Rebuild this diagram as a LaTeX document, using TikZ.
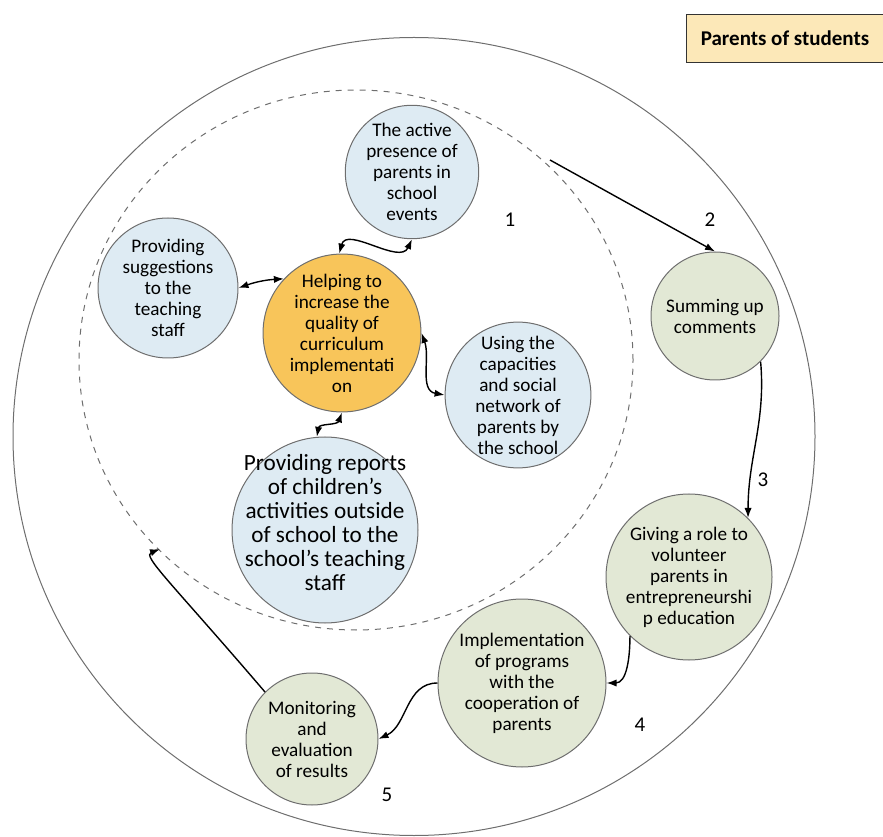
\documentclass[tikz,border=0pt]{standalone}
\usepackage{fontspec}
\setmainfont{Carlito}
\usetikzlibrary{arrows.meta}
\definecolor{bubbleblue}{HTML}{DEEBF3}
\definecolor{bubblegreen}{HTML}{E2E8D5}
\definecolor{bubblegold}{HTML}{F8C55A}
\definecolor{boxcream}{HTML}{FCE8B8}
\definecolor{rimgray}{HTML}{6E6E6E}

\begin{document}
\begin{tikzpicture}[x=0.5pt, y=0.5pt,
	bubble/.style={circle, draw=rimgray, line width=0.5pt, inner sep=0pt, align=center,
		font=\fontsize{9.6}{10.5}\selectfont},
	innerbub/.style={bubble, fill=bubbleblue},
	outerbub/.style={bubble, fill=bubblegreen},
	corebub/.style={bubble, fill=bubblegold},
	link/.style={-{Latex[length=5pt,width=3.6pt]}, line width=0.7pt},
	twoway/.style={{Latex[length=5pt,width=3.6pt]}-{Latex[length=5pt,width=3.6pt]}, line width=0.7pt},
	steplabel/.style={font=\fontsize{10.5}{12}\selectfont}]
	\useasboundingbox (0,0) rectangle (883,836);
	% rings
	\draw[rimgray, line width=0.5pt] (414,399.5) ellipse [x radius=200.5pt, y radius=199.5pt];
	\draw[rimgray, line width=0.5pt, dashed] (356,476) ellipse [x radius=138.5pt, y radius=135pt];
	% title box
	\node[draw=black!80, fill=boxcream, minimum width=99pt, minimum height=24pt, inner sep=0pt,
		font=\fontsize{10.5}{12}\selectfont\bfseries] (title) at (785,798) {Parents of students};
	% inner bubbles
	\node[corebub, minimum size=71pt] (hq) at (342,503) {Helping to\\increase the\\quality of\\curriculum\\implementati\\on};
	\node[innerbub, minimum size=65pt] (act) at (412,664) {The active\\presence of\\parents in\\school\\events};
	\node[innerbub, minimum size=70pt] (sug) at (168,548) {Providing\\suggestions\\to the\\teaching\\staff};
	\node[innerbub, minimum size=70pt] (cap) at (518,441) {Using the\\capacities\\and social\\network of\\parents by\\the school};
	\node[innerbub, minimum size=93pt, inner sep=-16pt, font=\fontsize{11.6}{12}\selectfont] (rep) at (325,306) {Providing reports\\of children's\\activities outside\\of school to the\\school's teaching\\staff\\[-4pt]\mbox{}};
	% outer bubbles
	\node[outerbub, minimum size=64pt] (sum) at (715,520) {Summing up\\comments};
	\node[outerbub, minimum size=83pt] (giv) at (689,259) {Giving a role to\\volunteer\\parents in\\entrepreneurshi\\p education};
	\node[outerbub, minimum size=84pt] (imp) at (522,153) {Implementation\\of programs\\with the\\cooperation of\\parents};
	\node[outerbub, minimum size=66pt] (mon) at (312,97) {Monitoring\\and\\evaluation\\of results};
	% step numbers
	\node[steplabel] (n1) at (510,616) {1};
	\node[steplabel] (n2) at (710,616) {2};
	\node[steplabel] (n3) at (763,356) {3};
	\node[steplabel] (n4) at (640,111) {4};
	\node[steplabel] (n5) at (387,41) {5};
	% ends on the dashed ring
	\coordinate (ringout) at (550,676);
	\coordinate (ringin) at (160,287);
	% cycle
	\path[link]
	(ringout) edge (sum.north)
	(sum.-45) edge [out=-85, in=90] (giv.45)
	(giv.-135) edge [out=-90, in=0] (imp.east)
	(imp.west) edge [out=180, in=25] (mon.east);
	\draw[link] (mon.135) .. controls (170,255) and (142,280) .. (ringin);
	% links to the core
	\path[twoway]
	(hq.92) edge [out=75, in=-115] (act.south)
	(sug.east) edge [bend left=8] (hq.137)
	(hq.east) edge [out=-70, in=170] (cap.west)
	(hq.south) edge [out=-110, in=80] (rep.95);
\end{tikzpicture}
\end{document}
